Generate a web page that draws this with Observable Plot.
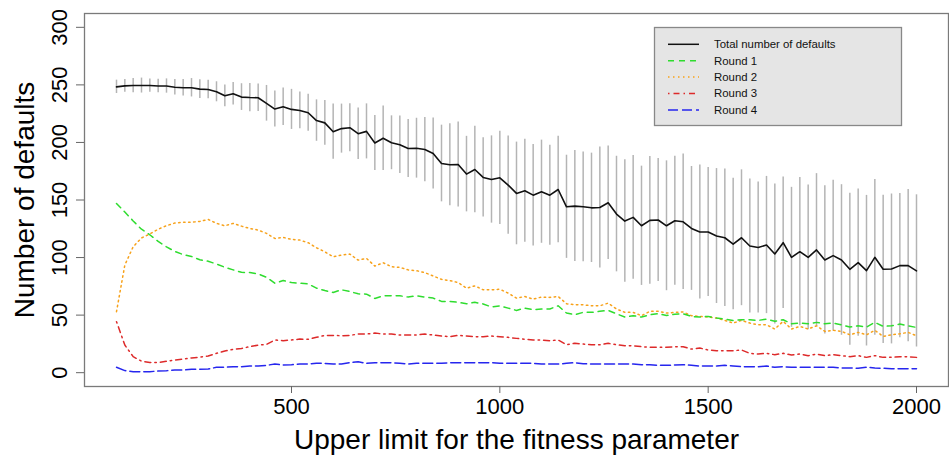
<!DOCTYPE html>
<html>
<head>
<meta charset="utf-8">
<script src="https://cdn.jsdelivr.net/npm/d3@7"></script>
<script src="https://cdn.jsdelivr.net/npm/@observablehq/plot@0.6"></script>
<style>
  html, body { margin: 0; padding: 0; background: #fff; }
  #chart { width: 949px; height: 459px; overflow: hidden; }
</style>
</head>
<body>
<div id="chart"></div>
<script>
// Upper limit for the fitness parameter (x grid)
const xValues = [80,100,120,140,160,180,200,220,240,260,280,300,320,340,360,380,400,420,440,460,480,500,520,540,560,580,600,620,640,660,680,700,720,740,760,780,800,820,840,860,880,900,920,940,960,980,1000,1020,1040,1060,1080,1100,1120,1140,1160,1180,1200,1220,1240,1260,1280,1300,1320,1340,1360,1380,1400,1420,1440,1460,1480,1500,1520,1540,1560,1580,1600,1620,1640,1660,1680,1700,1720,1740,1760,1780,1800,1820,1840,1860,1880,1900,1920,1940,1960,1980,2000];

// Total number of defaults (mean) and error-bar half width
const totalDefaults = [248.3,249.1,249.4,249.4,249.4,249,249,248,247.5,247.5,246.3,246,244,240.5,242.3,239.4,239,238.8,234,229,231,228.7,227.8,225.8,219,217,209.3,212,212.8,207.6,209.6,199.5,203.6,
  199.7,198,194.7,195,193.8,190.4,181.7,180.6,180.9,172.5,176.5,169.6,167.8,169.3,162.9,155.7,158,154.2,157.2,154.2,159.1,144.1,144.7,144.1,143.2,143.5,147.6,137.8,131.7,134.9,127.6,132.3,132.6,127.6,132,
  131.1,125.3,122.2,122.2,118.7,117.2,111.7,117.2,110,108.8,110.9,103.1,112.9,100.2,105.1,100.2,106.6,97.9,101.7,97.9,89.8,95.6,88.6,100.2,89.8,90.1,93,93,88.4];
const totalSpread = [5.8,5.6,6.2,6.5,5.8,5.8,6.2,6.7,7.2,8,8.2,8,8.7,9.4,9.8,11.6,12.3,12,15.5,15.6,16.3,17.4,16,16,18,19.5,24,21.3,20.8,22.4,23.9,23.9,28,
  23.4,24.9,25.2,26,27.9,30.8,33.3,35.6,36.9,32.8,37.6,34.4,37.9,40.5,42.7,44.6,44.8,44.1,44.8,43.4,46.3,44.8,48.2,47.7,47.5,52.5,49.2,50.2,53.2,53.8,51.8,55.4,53.5,56.4,56.1,
  58.9,53.8,58.3,56.1,58.6,59.8,57.1,59,58.2,56.9,59.6,60.8,57.1,60.8,64.4,62.9,66.3,64.4,65.4,65.4,66,63.9,65.4,67.7,64.4,65.1,62.6,66.1,66.1];

const round1 = [147,139.5,131.8,124.6,119.8,114,109.3,105.3,102.6,101,98.1,96.8,94.4,91.6,89.3,87.2,87,85.8,82.9,77.7,80,78.3,77.7,77.1,73.4,71.4,69.7,72,70.5,68.5,68.2,64.5,66.8,
  66.8,66.8,65.7,66.8,65.7,64.8,61.9,61.9,61.1,59.9,61.1,59.7,57.1,58.1,56.1,54.1,56.1,54.7,55.3,55.3,58.1,51.8,50.3,52.4,52.4,53.3,54.1,51.2,48.3,49.5,48.3,50.3,51.2,49.6,50.8,
  51.2,48.9,48.3,48.9,47.5,46.6,45.4,46,46,45.4,46.6,44.6,46,42.5,43.1,42.5,43.7,42.5,43.1,41.6,39.6,40.7,39.6,43.7,40.2,40.7,42.2,40.7,39.3];
const round2 = [53,93.5,109.4,117,120.5,124.6,127.7,130,130.7,130.7,131.4,133.1,129.7,127.6,129.7,127.3,125.3,123.9,121,116.6,117.5,115.8,115.2,112.9,108.5,105,100.7,102.2,103,97.8,99.3,92.6,95.5,
  92,91.5,89.3,88.6,86.9,84,81.1,80,78.3,73.4,75.4,72,72,72.5,69.1,64.8,66.2,63.9,65.7,65.4,66.2,59.9,59,59,58.1,58.1,60.4,55.3,52.4,52.4,49.5,53.3,53.3,51.8,52.4,
  52.7,49.5,48.9,48.3,47.5,45.4,43.1,45.4,43.1,41.6,41.6,37.9,44.6,37.9,40.2,37.9,40.7,35.9,36.8,35.9,32.9,35,32.9,36.8,31.5,32.9,33.8,35,32.1];
const round3 = [44.3,24,13.9,10,8.9,8.9,9.9,11,11.8,12.8,13.5,14.5,16.8,18.8,20.3,21.1,22.6,24,24.6,28.4,27.8,28.4,29.2,29,30.7,32.4,32.4,32.1,32.4,33.6,33.6,34.4,33.6,
  33.6,32.7,32.7,32.7,33.6,32.7,31.8,31.3,32.4,31.8,31.3,31.3,31.8,31.3,30.7,29.8,29,28.4,28.4,27.8,28.4,24.3,25.5,24.9,24.3,24.3,25.5,24.3,23.4,23.4,22.6,22,22,22,22.6,
  22.6,20.5,21.4,19.7,19.1,19.1,19.1,19.7,16.8,16.2,16.8,15.6,16.8,15.3,16.2,14.8,16.2,14.8,15.6,14.8,13.9,14.8,13.3,14.8,13.3,13.3,13.9,13.9,13.3];
const round4 = [4.7,1.8,0.9,0.9,0.9,1.4,1.7,2.3,2.3,2.9,2.9,3.2,4.7,4.7,5.2,5.2,5.8,5.8,6.4,7.5,6.7,6.9,7.5,7.5,8.1,8.1,7.5,7.5,8.7,9.5,8.1,8.7,8.7,
  8.7,8.1,7.5,8.1,8.1,8.1,8.1,8.7,8.7,8.7,8.7,8.7,8.7,8.1,8.1,8.1,8.1,8.1,7.5,7.5,7.5,8.1,8.7,7.8,7.5,7.5,7.5,7.5,7.5,7.5,6.9,6.9,6.4,6.4,6.6,
  6.9,6.4,5.8,5.8,5.8,6.4,5.8,5.2,5.2,5.2,5.8,4.7,5.2,4.7,4.7,4.7,4.7,4.7,4.7,4.1,4.1,3.8,4.7,4.1,3.8,3.5,3.5,3.5,3.5];

const xTicks = [500, 1000, 1500, 2000];
const yTicks = [0, 50, 100, 150, 200, 250, 300];
const seriesNames = ["Total number of defaults", "Round 1", "Round 2", "Round 3", "Round 4"];
const xTitle = "Upper limit for the fitness parameter";
const yTitle = "Number of defaults";

const rows = xValues.map((x, i) => ({
  x, total: totalDefaults[i], sd: totalSpread[i],
  r1: round1[i], r2: round2[i], r3: round3[i], r4: round4[i]
}));

const styles = [
  {key: "total", stroke: "#111", dash: null},
  {key: "r1", stroke: "#2fdc2f", dash: "6,5"},
  {key: "r2", stroke: "#f7a21b", dash: "1.5,3.5"},
  {key: "r3", stroke: "#dd2a2a", dash: "1.5,4,6,4"},
  {key: "r4", stroke: "#2626ee", dash: "10,4"}
];

const font = "'Liberation Sans', Arial, Helvetica, sans-serif";

const chart = Plot.plot({
  width: 949,
  height: 459,
  marginLeft: 84,
  marginRight: 1,
  marginTop: 13,
  marginBottom: 73,
  style: {fontFamily: font, background: "#fff", color: "#000", overflow: "visible"},
  x: {domain: [3.2, 2076.8]},
  y: {domain: [-12, 312]},
  marks: [
    Plot.ruleX(rows, {x: "x", y1: d => d.total - d.sd, y2: d => d.total + d.sd, stroke: "#b4b4b4", strokeWidth: 1.5}),
    ...styles.slice(1).reverse().map(s => Plot.line(rows, {x: "x", y: s.key, stroke: s.stroke, strokeWidth: 1.5, strokeDasharray: s.dash})),
    Plot.line(rows, {x: "x", y: "total", stroke: "#111", strokeWidth: 1.6}),
    Plot.frame({stroke: "#7a7a7a", strokeWidth: 1.3}),
    Plot.axisX({ticks: xTicks, tickSize: 7, tickPadding: 5, fontSize: 22, stroke: "#666", label: null, tickFormat: d => String(d)}),
    Plot.axisY({ticks: yTicks, tickSize: 8, stroke: "#666", label: null, tickFormat: () => ""}),
    Plot.text(yTicks, {y: d => d, text: d => String(d), frameAnchor: "left", dx: -18, rotate: -90, textAnchor: "middle", lineAnchor: "bottom", fontSize: 22, fill: "#000"}),
    Plot.text([xTitle], {frameAnchor: "bottom", dy: 54, fontSize: 28, textAnchor: "middle", lineAnchor: "middle", fill: "#000"}),
    Plot.text([yTitle], {frameAnchor: "left", dx: -59, rotate: -90, fontSize: 28, textAnchor: "middle", lineAnchor: "middle", fill: "#000"})
  ]
});

document.getElementById("chart").appendChild(chart);

// In-plot legend box (as in the reference)
const svg = d3.select(chart.tagName.toLowerCase() === "svg" ? chart : chart.querySelector("svg"));
const lg = svg.append("g").attr("font-family", font).attr("text-anchor", "start");
lg.append("rect").attr("x", 654.5).attr("y", 27.5).attr("width", 247).attr("height", 98)
  .attr("fill", "#e5e5e5").attr("stroke", "#888").attr("stroke-width", 1.3);
styles.forEach((s, i) => {
  const yy = 44.3 + i * 16.4;
  lg.append("line").attr("x1", 668).attr("x2", 699).attr("y1", yy).attr("y2", yy)
    .attr("stroke", s.stroke).attr("stroke-width", 1.5)
    .attr("stroke-dasharray", s.dash);
  lg.append("text").attr("x", 714).attr("y", yy).attr("dy", "0.35em")
    .attr("text-anchor", "start")
    .attr("font-size", 11.4).attr("fill", "#111").text(seriesNames[i]);
});
</script>
</body>
</html>
